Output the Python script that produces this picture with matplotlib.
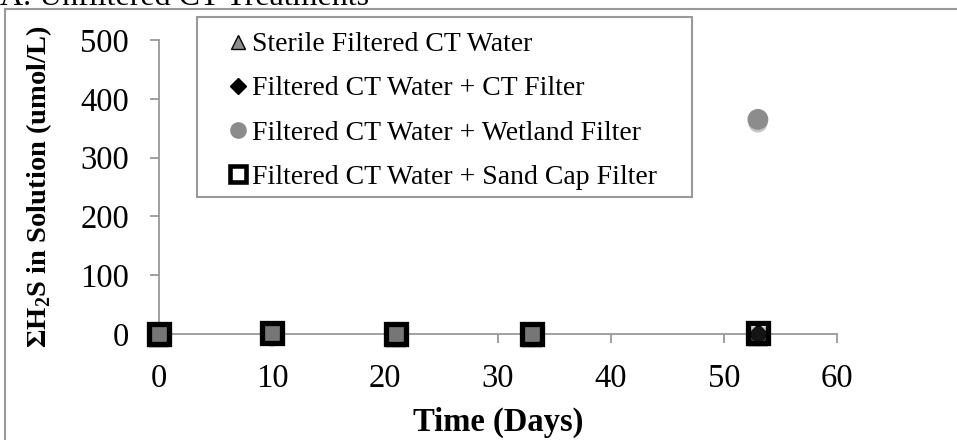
import matplotlib

matplotlib.use("Agg")
import matplotlib.patheffects as pe
import matplotlib.pyplot as plt
from matplotlib.patches import Rectangle

plt.rcParams["font.family"] = ["Liberation Serif", "DejaVu Serif"]
plt.rcParams["mathtext.fontset"] = "custom"
plt.rcParams["mathtext.rm"] = "Liberation Serif"
plt.rcParams["mathtext.bf"] = "Liberation Serif:bold"

# data (days, umol/L)
sterile_t = [0, 10, 21, 33, 53]
sterile_v = [0, 0, 0, 0, 0]
ct_t = [0, 10, 21, 33, 53]
ct_v = [0, 0, 0, 0, 0]
wetland_t = [0, 10, 21, 33, 53]
wetland_v = [0, 1, 0, 0, 365]
sand_t = [0, 10, 21, 33, 53]
sand_v = [0, 2, 0, 0, 1]

x_ticks = [0, 10, 20, 30, 40, 50, 60]
y_ticks = [0, 100, 200, 300, 400, 500]

W, H = 957, 440
fig = plt.figure(figsize=(W / 100, H / 100), dpi=100)
ax = fig.add_axes([159 / W, 1 - 334 / H, (837 - 159) / W, (334 - 40) / H])

shadow = [pe.SimplePatchShadow(offset=(0, -2.5), shadow_rgbFace="#444444", alpha=0.3), pe.Normal()]

grey = "#8c8c8c"
ax.plot(sterile_t, sterile_v, ls="none", marker="^", ms=11, mfc=grey, mec="black", mew=1,
        clip_on=False, zorder=3, path_effects=shadow, label="Sterile Filtered CT Water")
ax.plot(ct_t, ct_v, ls="none", marker="D", ms=10, mfc="black", mec="black", mew=1,
        clip_on=False, zorder=4, path_effects=shadow, label="Filtered CT Water + CT Filter")
ax.plot(wetland_t, wetland_v, ls="none", marker="o", ms=14, mfc=grey, mec=grey, mew=1,
        clip_on=False, zorder=5, path_effects=shadow, label="Filtered CT Water + Wetland Filter")
ax.plot(sand_t, sand_v, ls="none", marker="s", ms=14.5, mfc="none", mec="black", mew=3.8,
        clip_on=False, zorder=6, path_effects=shadow, label="Filtered CT Water + Sand Cap Filter")

ax.set_xlim(0, 60)
ax.set_ylim(0, 500)
ax.set_xticks(x_ticks)
ax.set_yticks(y_ticks)
for side in ("top", "right"):
    ax.spines[side].set_visible(False)
for side in ("left", "bottom"):
    ax.spines[side].set_color("#999999")
    ax.spines[side].set_linewidth(1.3)
ax.tick_params(axis="both", direction="out", length=6.5, width=1.3, color="#999999", labelsize=23.5)
ax.tick_params(axis="y", pad=15)
ax.tick_params(axis="x", pad=15)

ax.set_xlabel("Time (Days)", fontsize=23.5, fontweight="bold", labelpad=9)
ax.set_ylabel(r"ΣH$_\mathbf{2}$S in Solution (umol/L)", fontsize=20.5, fontweight="bold", labelpad=19)

# legend without its own frame; the box is drawn separately
leg = ax.legend(loc="upper left", bbox_to_anchor=(226 / W, 1 - 32 / H, 0, 0),
                bbox_transform=fig.transFigure, fontsize=20, frameon=False,
                handlelength=0.86, handletextpad=0.08, labelspacing=0.67, borderpad=0,
                borderaxespad=0)
for h in leg.legend_handles:
    h.set_path_effects([])
hs = leg.legend_handles
hs[0].set_markersize(10)
hs[1].set_markersize(8)
hs[2].set_markersize(11)
hs[3].set_markersize(11.5)
hs[3].set_markeredgewidth(3.3)
hs[3].set_markerfacecolor("white")
fig.patches.append(Rectangle((197 / W, 1 - 197 / H), (692 - 197) / W, (197 - 17) / H,
                             transform=fig.transFigure, fill=False, edgecolor="#999999",
                             linewidth=1.5, zorder=0))

fig.patches.append(Rectangle((5 / W, -0.1), 1.2, 1.1 - 9 / H, transform=fig.transFigure,
                             fill=False, edgecolor="#999999", linewidth=1.5))
fig.text(0.0, 1 - 5 / H, "A. Unfiltered CT Treatments", fontsize=23, va="baseline", ha="left")

fig.savefig("out.png", dpi=100)
